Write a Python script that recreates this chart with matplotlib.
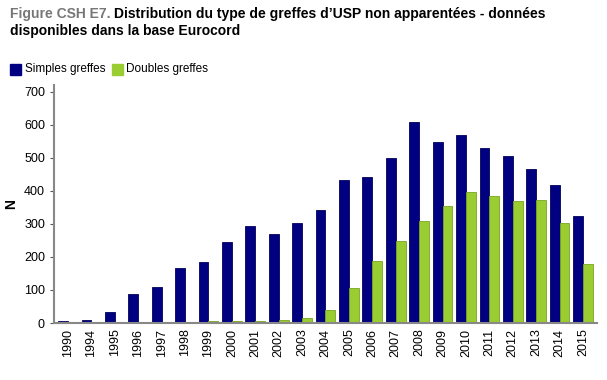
import numpy as np
import matplotlib.pyplot as plt

plt.rcParams['font.family'] = ['Liberation Sans', 'DejaVu Sans']

years = ['1990', '1994', '1995', '1996', '1997', '1998', '1999', '2000', '2001', '2002', '2003',
         '2004', '2005', '2006', '2007', '2008', '2009', '2010', '2011', '2012', '2013', '2014', '2015']
simples = [5, 10, 33, 88, 108, 165, 185, 245, 292, 270, 303,
           342, 432, 442, 500, 608, 548, 570, 530, 505, 467, 416, 325]
doubles = [0, 0, 0, 0, 0, 0, 5, 5, 5, 8, 15,
           40, 105, 188, 247, 308, 355, 395, 383, 368, 372, 303, 180]

fig = plt.figure(figsize=(6.07, 3.80), dpi=100)
ax = fig.add_axes([54 / 607, 1 - 323 / 380, 543 / 607, 238 / 380])

x = np.arange(len(years))
w = 0.42
ax.bar(x - w / 2, simples, w, color='#000080', edgecolor='#00005a', linewidth=0.6)
ax.bar(x + w / 2, doubles, w, color='#9acd32', edgecolor='#7aa522', linewidth=0.6)

ax.set_xlim(-0.6, len(years) - 0.4)
ax.set_ylim(0, 720)
ax.set_yticks(range(0, 701, 100))
ax.set_xticks(x)
ax.set_xticklabels(years, rotation=90, fontsize=9)
ax.tick_params(axis='y', labelsize=9, length=3, color='#555555')
ax.tick_params(axis='x', length=0, pad=4)
ax.set_ylabel('N', fontsize=10, fontweight='bold', labelpad=4)

for s in ['top', 'right']:
    ax.spines[s].set_visible(False)
ax.spines['left'].set_color('#888888')
ax.spines['left'].set_linewidth(1.5)
ax.spines['bottom'].set_color('#888888')
ax.spines['bottom'].set_linewidth(1.5)

# title: grey prefix + black text
fig.text(10 / 607, 1 - 14 / 380, 'Figure CSH E7.', fontsize=10, fontweight='bold',
         color='#777777', va='center')
fig.text(114 / 607, 1 - 14 / 380, "Distribution du type de greffes d\u2019USP non apparent\u00e9es - donn\u00e9es",
         fontsize=10, fontweight='bold', color='black', va='center')
fig.text(10 / 607, 1 - 31 / 380, 'disponibles dans la base Eurocord', fontsize=10,
         fontweight='bold', color='black', va='center')

# legend
fig.patches.append(plt.Rectangle((10 / 607, 1 - 75 / 380), 11 / 607, 11 / 380,
                                 transform=fig.transFigure, color='#000080'))
fig.text(25 / 607, 1 - 69 / 380, 'Simples greffes', fontsize=8.5, va='center')
fig.patches.append(plt.Rectangle((112 / 607, 1 - 75 / 380), 11 / 607, 11 / 380,
                                 transform=fig.transFigure, color='#9acd32'))
fig.text(126 / 607, 1 - 69 / 380, 'Doubles greffes', fontsize=8.5, va='center')

fig.savefig('out.png', dpi=100)
